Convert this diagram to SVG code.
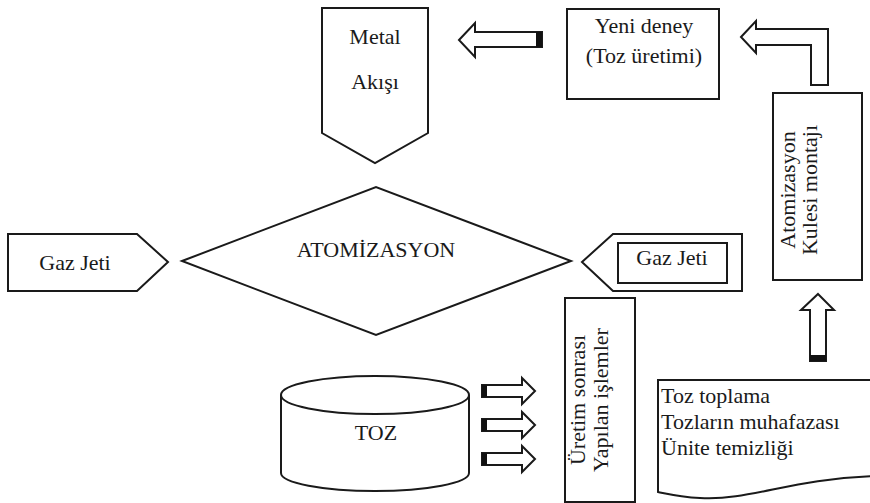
<svg xmlns="http://www.w3.org/2000/svg" width="870" height="503" viewBox="0 0 870 503" font-family="'Liberation Serif', Tinos, 'DejaVu Serif', serif" font-size="22">
<style>
.s{fill:#fff;stroke:#1a1a1a;stroke-width:2;stroke-linejoin:miter}
text{font-family:'Liberation Serif',Tinos,'DejaVu Serif',serif;font-size:22px;fill:#1a1a1a}
.m{text-anchor:middle}
.cap{fill:#111;stroke:none}
</style>
<rect width="870" height="503" fill="#fff"/>
<g id="metal">
<path class="s" d="M322,8 H428 V133 L375,163 L322,133 Z"/>
<text class="m" x="375" y="44">Metal</text>
<text class="m" x="375" y="89">Akışı</text>
</g>
<g id="yeni">
<rect class="s" x="567" y="9" width="152" height="90"/>
<text class="m" x="644" y="33">Yeni deney</text>
<text class="m" x="644" y="63">(Toz üretimi)</text>
</g>
<g id="kule">
<rect class="s" x="773" y="93" width="89" height="187"/>
<text class="m" transform="translate(795,190) rotate(-90)">Atomizasyon</text>
<text class="m" transform="translate(817,190) rotate(-90)">Kulesi montajı</text>
</g>
<g id="gazsol">
<path class="s" d="M8,234 H137 L168,262 L137,291 H8 Z"/>
<text class="m" x="75" y="270">Gaz Jeti</text>
</g>
<g id="atom">
<path class="s" d="M182,261 L376,187 L571,261 L376,335 Z"/>
<text class="m" x="376" y="257">ATOMİZASYON</text>
</g>
<g id="gazsag">
<path class="s" d="M582,262 L613,234 H742 V291 H613 Z"/>
<rect class="s" x="618" y="243" width="109" height="40"/>
<text class="m" x="672" y="265">Gaz Jeti</text>
</g>
<g id="uretim">
<rect class="s" x="565" y="298" width="70" height="204"/>
<text class="m" transform="translate(585,400) rotate(-90)">Üretim sonrası</text>
<text class="m" transform="translate(608,400) rotate(-90)">Yapılan işlemler</text>
</g>
<g id="toz">
<path class="s" d="M281,395 V473 A94,18 0 0 0 469,473 V395"/>
<ellipse class="s" cx="375" cy="395" rx="94" ry="19"/>
<text class="m" x="376" y="440">TOZ</text>
</g>
<g id="toplama">
<path class="s" d="M658,380 H875 V476 C790,479 750,501 700,498 C682,497 668,494 658,492 Z"/>
<text x="661" y="403">Toz toplama</text>
<text x="661" y="429">Tozların muhafazası</text>
<text x="661" y="455">Ünite temizliği</text>
</g>
<g id="connectors">
<path class="s" d="M459,40 L475,23 V32 H542 V47 H475 V57 Z"/>
<rect class="cap" x="536" y="32" width="6" height="15"/>
<path class="s" d="M741,37 L756,21 V29 H828 V85 H811 V45 H756 V53 Z"/>
<path class="s" d="M818,294 L834,310 H826 V361 H810 V310 H801 Z"/>
<rect class="cap" x="810" y="355" width="16" height="6"/>
<path class="s" d="M482,385 H522 V378 L535,391 L522,404 V397 H482 Z"/>
<rect class="cap" x="482" y="385" width="5" height="12"/>
<path class="s" d="M482,419 H522 V412 L535,425 L522,438 V431 H482 Z"/>
<rect class="cap" x="482" y="419" width="5" height="12"/>
<path class="s" d="M482,453 H522 V446 L535,459 L522,472 V465 H482 Z"/>
<rect class="cap" x="482" y="453" width="5" height="12"/>
</g>
</svg>
